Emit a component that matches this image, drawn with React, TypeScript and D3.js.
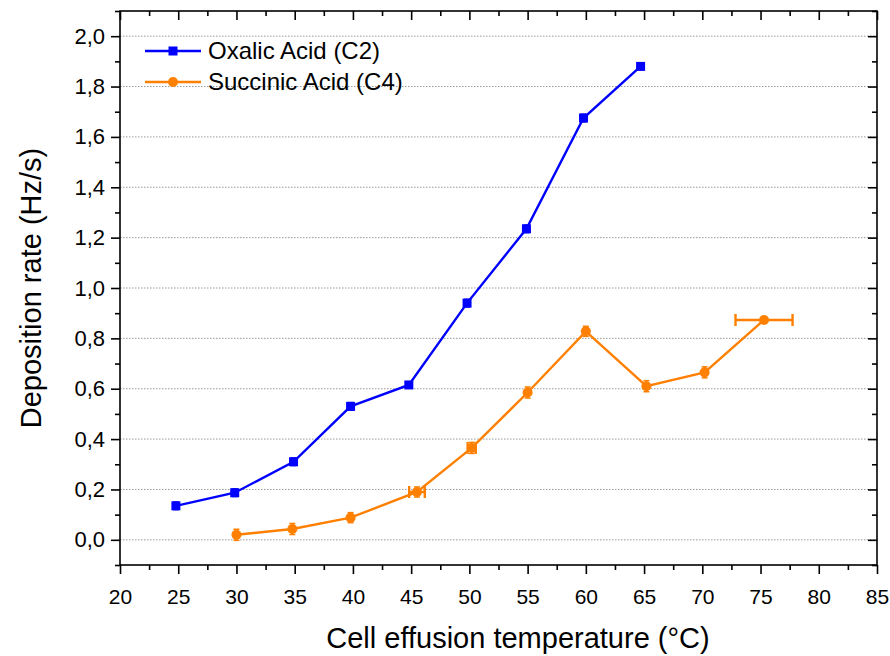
import { useEffect, useRef } from 'react'
import * as d3 from 'd3'

// Oxalic acid (C2)
const oxalicT = [24.8, 29.85, 34.9, 39.8, 44.8, 49.8, 54.9, 59.8, 64.7]
const oxalicRate = [0.135, 0.187, 0.31, 0.53, 0.615, 0.94, 1.235, 1.675, 1.88]
const oxalicErrY = [0.015, 0.015, 0.015, 0.015, 0.012, 0.015, 0.015, 0.015, 0.012]

// Succinic acid (C4)
const succT = [30.0, 34.8, 39.8, 45.5, 50.2, 55.0, 60.0, 65.2, 70.2, 75.3]
const succRate = [0.02, 0.043, 0.088, 0.19, 0.365, 0.585, 0.828, 0.61, 0.665, 0.873]
const succErrX = [0, 0, 0, 0.67, 0.35, 0, 0, 0, 0, 2.45]
const succErrY = [0.022, 0.022, 0.02, 0.02, 0.022, 0.022, 0.02, 0.022, 0.022, 0.01]

const xTicks = [20, 25, 30, 35, 40, 45, 50, 55, 60, 65, 70, 75, 80, 85]
const yTicks = [0, 0.2, 0.4, 0.6, 0.8, 1.0, 1.2, 1.4, 1.6, 1.8, 2.0]

const BLUE = '#0000ff'
const ORANGE = '#ff8000'

function App() {
  const svgRef = useRef(null)

  useEffect(() => {
    const width = 890
    const height = 656
    const left = 120, right = 877, top = 11, bottom = 565
    const font = 'Liberation Sans, Arial, sans-serif'

    const svg = d3.select(svgRef.current)
    svg.selectAll('*').remove()
    svg.attr('width', width).attr('height', height)

    svg.append('rect').attr('width', width).attr('height', height).attr('fill', '#fff')

    const x = d3.scaleLinear().domain([20, 85]).range([left, right])
    const y = d3.scaleLinear().domain([-0.1, 2.1]).range([bottom, top])

    // grid
    svg.append('g')
      .selectAll('line')
      .data(yTicks)
      .join('line')
      .attr('x1', left).attr('x2', right)
      .attr('y1', d => y(d)).attr('y2', d => y(d))
      .attr('stroke', '#9a9a9a')
      .attr('stroke-width', 1)
      .attr('stroke-dasharray', '1.5,1.5')

    const minorY = d3.range(-0.1, 2.11, 0.1).filter(v => !yTicks.some(t => Math.abs(t - v) < 1e-6))
    const minorX = d3.range(22.5, 85, 5)

    const axisStyle = (size: number) => (ax: any) => {
      ax.select('.domain').remove()
      ax.selectAll('line').attr('stroke', '#000').attr('stroke-width', 1.6)
      ax.selectAll('text').attr('fill', '#000').attr('font-size', `${size}px`).attr('font-family', font)
    }

    // left axis
    svg.append('g')
      .attr('transform', `translate(${left},0)`)
      .call(d3.axisLeft(y).tickValues(yTicks).tickSize(9).tickPadding(6)
        .tickFormat(d => d3.format('.1f')(d as number).replace('.', ',')))
      .call(axisStyle(22))
    svg.append('g')
      .attr('transform', `translate(${left},0)`)
      .call(d3.axisLeft(y).tickValues(minorY).tickSize(5).tickFormat(() => ''))
      .call(axisStyle(22))

    // right axis (inward)
    svg.append('g')
      .attr('transform', `translate(${right},0)`)
      .call(d3.axisLeft(y).tickValues(yTicks).tickSize(9).tickFormat(() => ''))
      .call(axisStyle(22))
    svg.append('g')
      .attr('transform', `translate(${right},0)`)
      .call(d3.axisLeft(y).tickValues(minorY).tickSize(5).tickFormat(() => ''))
      .call(axisStyle(22))

    // bottom axis
    svg.append('g')
      .attr('transform', `translate(0,${bottom})`)
      .call(d3.axisBottom(x).tickValues(xTicks).tickSize(9).tickPadding(15).tickFormat(d3.format('d')))
      .call(axisStyle(21))
    svg.append('g')
      .attr('transform', `translate(0,${bottom})`)
      .call(d3.axisBottom(x).tickValues(minorX).tickSize(5).tickFormat(() => ''))
      .call(axisStyle(21))

    // top axis (inward)
    svg.append('g')
      .attr('transform', `translate(0,${top})`)
      .call(d3.axisBottom(x).tickValues(xTicks).tickSize(9).tickFormat(() => ''))
      .call(axisStyle(21))
    svg.append('g')
      .attr('transform', `translate(0,${top})`)
      .call(d3.axisBottom(x).tickValues(minorX).tickSize(5).tickFormat(() => ''))
      .call(axisStyle(21))

    // frame
    svg.append('rect')
      .attr('x', left).attr('y', top)
      .attr('width', right - left).attr('height', bottom - top)
      .attr('fill', 'none').attr('stroke', '#000').attr('stroke-width', 1.6)

    const line = d3.line<[number, number]>().x(d => x(d[0])).y(d => y(d[1]))

    const drawSeries = (ts: number[], vs: number[], ex: number[], ey: number[], color: string, marker: 'square' | 'circle') => {
      const pts = ts.map((t, i) => [t, vs[i]] as [number, number])
      const g = svg.append('g')
      g.append('path').attr('d', line(pts)).attr('fill', 'none')
        .attr('stroke', color).attr('stroke-width', 2.4)
      pts.forEach((p, i) => {
        const cx = x(p[0]), cy = y(p[1])
        if (ey[i] > 0) {
          const y1 = y(p[1] - ey[i]), y2 = y(p[1] + ey[i])
          g.append('line').attr('x1', cx).attr('x2', cx).attr('y1', y1).attr('y2', y2)
            .attr('stroke', color).attr('stroke-width', 2)
          ;[y1, y2].forEach(yy => g.append('line').attr('x1', cx - 3).attr('x2', cx + 3)
            .attr('y1', yy).attr('y2', yy).attr('stroke', color).attr('stroke-width', 1.5))
        }
        if (ex[i] > 0) {
          const x1 = x(p[0] - ex[i]), x2 = x(p[0] + ex[i])
          g.append('line').attr('x1', x1).attr('x2', x2).attr('y1', cy).attr('y2', cy)
            .attr('stroke', color).attr('stroke-width', 2.4)
          ;[x1, x2].forEach(xx => g.append('line').attr('x1', xx).attr('x2', xx)
            .attr('y1', cy - 6).attr('y2', cy + 6).attr('stroke', color).attr('stroke-width', 2.4))
        }
        if (marker === 'square') {
          g.append('rect').attr('x', cx - 4.5).attr('y', cy - 4.5).attr('width', 9).attr('height', 9).attr('fill', color)
        } else {
          g.append('circle').attr('cx', cx).attr('cy', cy).attr('r', 5).attr('fill', color)
        }
      })
    }

    drawSeries(oxalicT, oxalicRate, oxalicT.map(() => 0), oxalicErrY, BLUE, 'square')
    drawSeries(succT, succRate, succErrX, succErrY, ORANGE, 'circle')

    // legend
    const legend = [
      { label: 'Oxalic Acid (C2)', color: BLUE, marker: 'square', y: 51 },
      { label: 'Succinic Acid (C4)', color: ORANGE, marker: 'circle', y: 82 },
    ]
    legend.forEach(l => {
      svg.append('line').attr('x1', 145).attr('x2', 201).attr('y1', l.y).attr('y2', l.y)
        .attr('stroke', l.color).attr('stroke-width', 2.4)
      if (l.marker === 'square') {
        svg.append('rect').attr('x', 168.5).attr('y', l.y - 4.5).attr('width', 9).attr('height', 9).attr('fill', l.color)
      } else {
        svg.append('circle').attr('cx', 173).attr('cy', l.y).attr('r', 5).attr('fill', l.color)
      }
      svg.append('text').attr('x', 208).attr('y', l.y).attr('dy', '0.35em')
        .attr('font-family', font).attr('font-size', '24px').attr('fill', '#000').text(l.label)
    })

    // axis titles
    svg.append('text')
      .attr('x', 518).attr('y', 638)
      .attr('text-anchor', 'middle').attr('dy', '0.35em')
      .attr('font-family', font).attr('font-size', '29px').attr('fill', '#000')
      .text('Cell effusion temperature (°C)')
    svg.append('text')
      .attr('transform', `translate(31,${(top + bottom) / 2}) rotate(-90)`)
      .attr('text-anchor', 'middle').attr('dy', '0.35em')
      .attr('font-family', font).attr('font-size', '29px').attr('fill', '#000')
      .text('Deposition rate (Hz/s)')
  }, [])

  return <svg ref={svgRef} style={{ position: 'absolute', left: 0, top: 0 }} />
}

export default App
